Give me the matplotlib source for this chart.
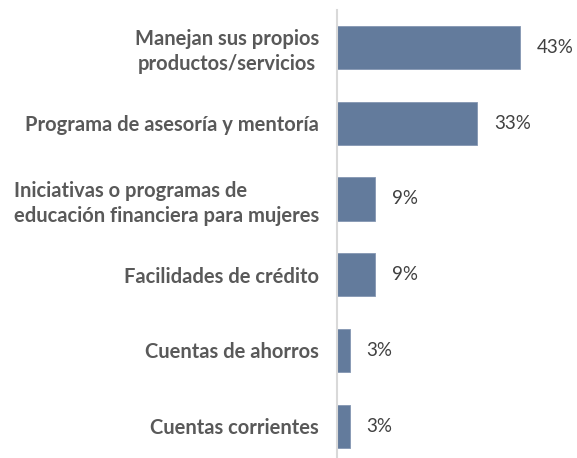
import matplotlib
matplotlib.use("Agg")
import matplotlib.pyplot as plt

categories = [
    "Manejan sus propios\nproductos/servicios",
    "Programa de asesoría y mentoría",
    "Iniciativas o programas de\neducación financiera para mujeres",
    "Facilidades de crédito",
    "Cuentas de ahorros",
    "Cuentas corrientes",
]
values = [43, 33, 9, 9, 3, 3]
label_align = ["center", "center", "left", "center", "center", "center"]

plt.rcParams["font.family"] = ["Lato", "DejaVu Sans"]

W, H = 577, 458
fig = plt.figure(figsize=(W / 100, H / 100), dpi=100)
# axes area in pixels: left edge at the vertical axis line
x0, x1 = 337, 577
y_top, y_bot = 9.6, 464.0
ax = fig.add_axes([x0 / W, 1 - y_bot / H, (x1 - x0) / W, (y_bot - y_top) / H])

pos = list(range(len(categories)))
bar_color = "#637B9C"
ax.barh(pos, values, height=0.57, color=bar_color, edgecolor="#8496B2", linewidth=0.6)

ax.set_ylim(len(categories) - 0.5, -0.5)
ax.set_xlim(0, 56.5)

for p, v in zip(pos, values):
    ax.annotate(f"{v}%", xy=(v, p), xytext=(12, 0), textcoords="offset points",
                ha="left", va="center", fontsize=13.5, color="#404040")

ax.set_yticks(pos)
ax.set_yticklabels(categories, fontsize=14.5, fontweight="bold", color="#595959")
for t, a in zip(ax.get_yticklabels(), label_align):
    t.set_multialignment(a)
    t.set_linespacing(1.3)
ax.tick_params(axis="y", length=0, pad=13)
ax.set_xticks([])

for s in ["top", "right", "bottom"]:
    ax.spines[s].set_visible(False)
ax.spines["left"].set_color("#D9D9D9")
ax.spines["left"].set_linewidth(1.5)

fig.savefig("out.png", dpi=100)
